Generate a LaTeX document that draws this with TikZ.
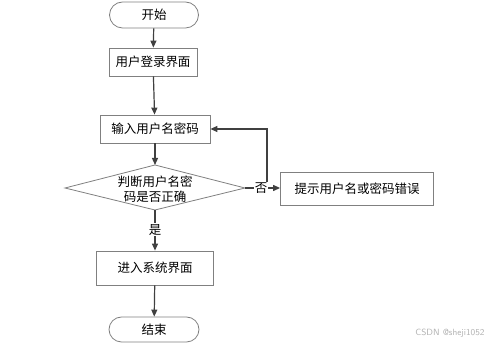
\documentclass[tikz,border=0pt]{standalone}
\usepackage{fontspec}
\setmainfont{Noto Sans CJK SC}
\usetikzlibrary{arrows.meta,shapes.misc}
\definecolor{linec}{HTML}{404040}
\definecolor{boxc}{HTML}{808080}
\tikzset{
  x=1pt,y=-1pt,
  every node/.style={font=\fontsize{12.5}{15.5}\selectfont},
  procbox/.style={draw=boxc,line width=0.8pt,minimum height=28pt,inner sep=0pt,fill=white},
  termbox/.style={draw=boxc,line width=0.8pt,rounded rectangle,minimum width=89pt,minimum height=26pt,inner sep=0pt,fill=white},
  flow/.style={draw=linec,line width=1.2pt,-{Triangle[length=7pt,width=6pt]}},
  plain/.style={draw=linec,line width=1.2pt},
  lbl/.style={inner sep=1pt,fill=white}
}
\begin{document}
\begin{tikzpicture}
\useasboundingbox (0,0) rectangle (499,344);
\node[termbox] (start) at (154,15) {开始};
\node[procbox,minimum width=88pt] (login) at (153,62) {用户登录界面};
\node[procbox,minimum width=110pt] (input) at (155,129) {输入用户名密码};
\coordinate (dtop) at (155,165);
\coordinate (dbot) at (155,210);
\coordinate (dleft) at (65,188);
\coordinate (dright) at (245,188);
\draw[boxc,line width=0.8pt,fill=white] (dtop) -- (dright) -- (dbot) -- (dleft) -- cycle;
\node[align=center,inner sep=0pt] (dtext) at (155,189) {判断用户名密\\码是否正确};
\node[procbox,minimum width=153pt,minimum height=33pt] (err) at (357,188.5) {提示用户名或密码错误};
\node[procbox,minimum width=117pt,minimum height=34pt] (enter) at (155,268) {进入系统界面};
\node[termbox,minimum width=90pt,minimum height=25pt] (end) at (154,329.5) {结束};
\node[text=gray!60,font=\fontsize{9}{11}\selectfont\sffamily] (wm) at (450,333) {CSDN @sheji1052};

\draw[flow] (start) -- (login);
\draw[flow] (login) -- (input);
\draw[flow] (input) -- (dtop);
\coordinate (jn) at (267,188);
\draw[flow] (dright) -- (err.west |- dright);
\draw[flow] (jn) -- (267,129) -- (input.east);
\node[lbl] (no) at (261,188) {否};
\draw[plain] (dbot) -- (155,240);
\node[lbl] (yes) at (155,230) {是};
\draw[flow] (yes.south) -- (enter.north);
\draw[flow] (enter) -- (end);
\end{tikzpicture}
\end{document}
